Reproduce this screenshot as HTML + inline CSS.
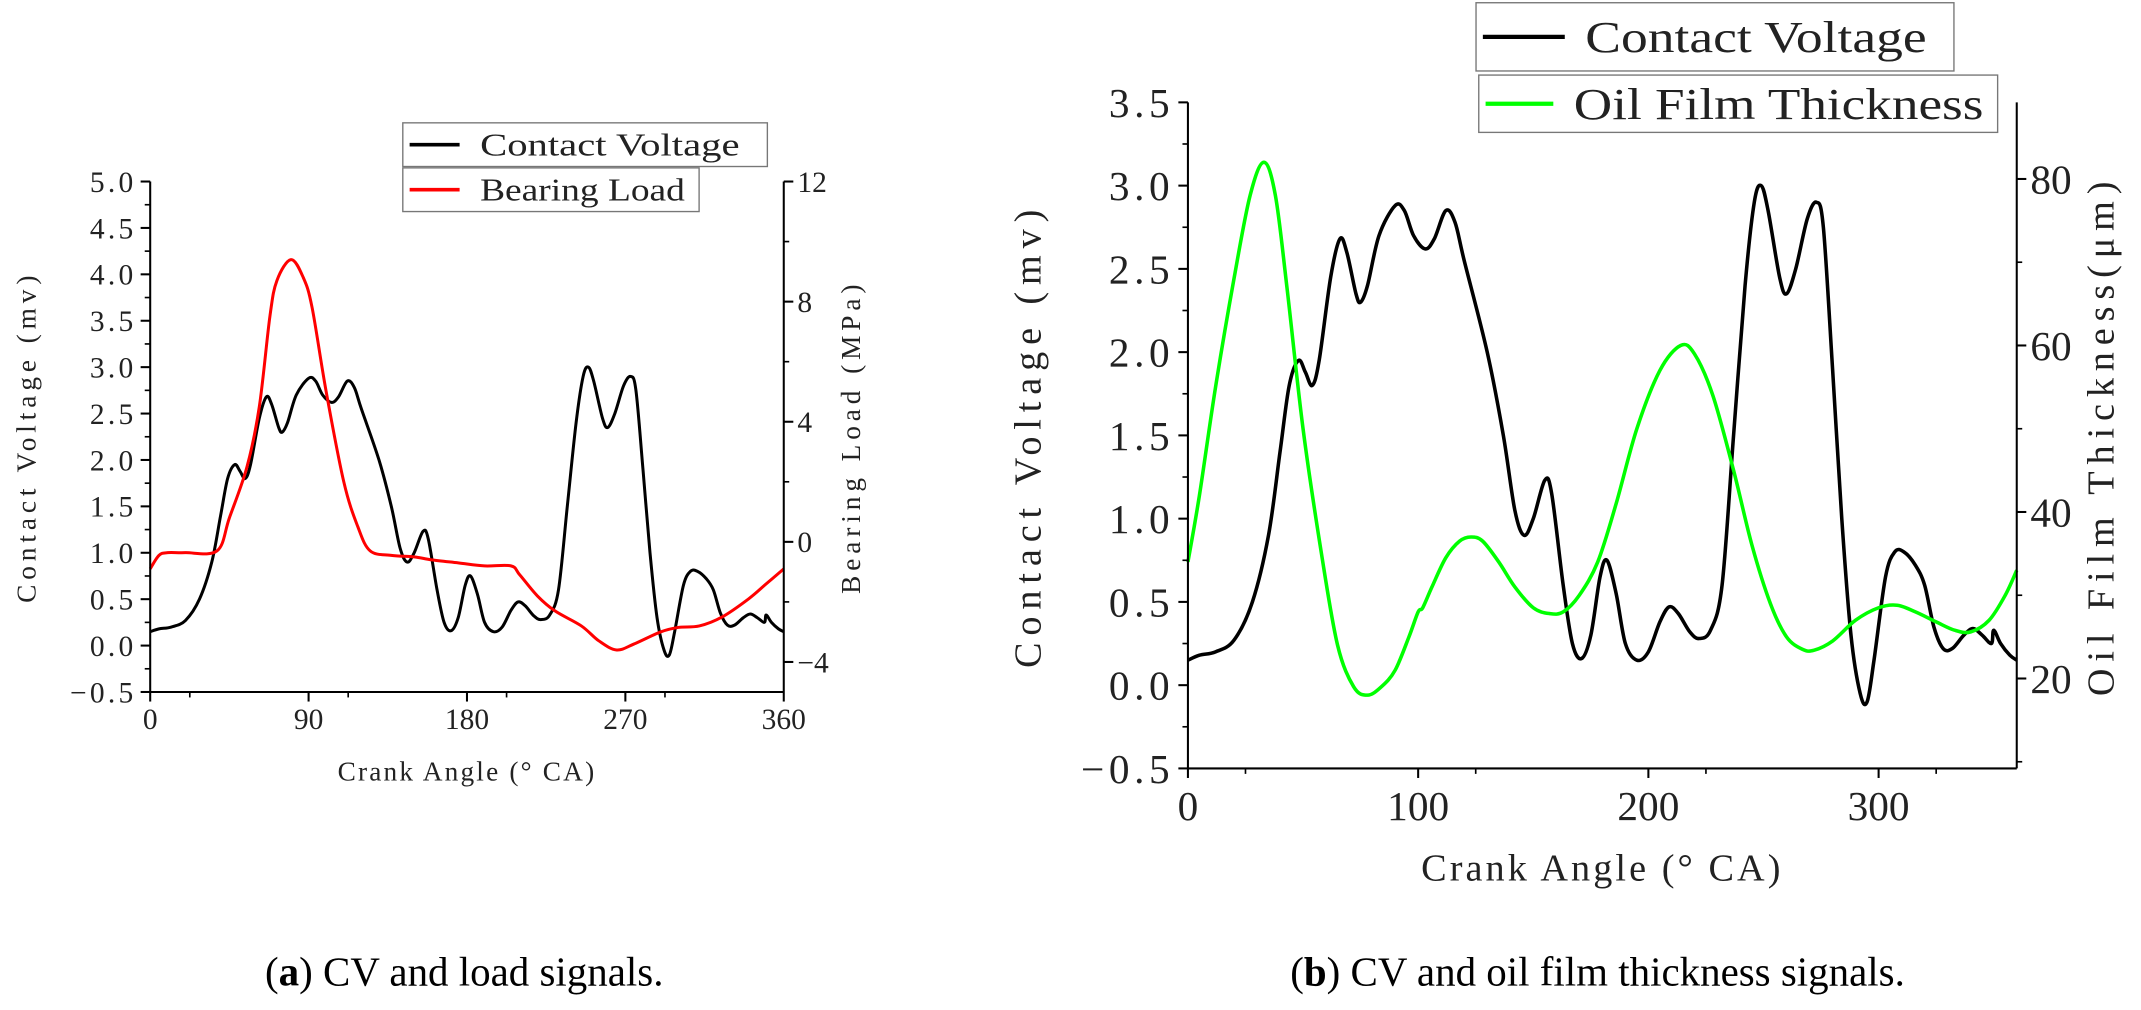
<!DOCTYPE html>
<html><head><meta charset="utf-8"><style>
html,body{margin:0;padding:0;background:#fff;}
svg{display:block;}
.tk{font-family:"Liberation Serif","Noto Serif CJK SC",serif;fill:#222;}
.cap{font-family:"Liberation Serif",serif;fill:#000;}
</style></head><body>
<svg id="fig" width="2141" height="1010" viewBox="0 0 1568 740" preserveAspectRatio="none" xmlns="http://www.w3.org/2000/svg">
<g id="ga"></g>
<g id="gb"></g>
<text class="cap" x="340" y="722" text-anchor="middle" font-size="30">(<tspan font-weight="bold">a</tspan>) CV and load signals.</text>
<text class="cap" x="1170" y="722" text-anchor="middle" font-size="30">(<tspan font-weight="bold">b</tspan>) CV and oil film thickness signals.</text>
</svg>
<script>
const cvAngles=[0,5,12,20,28,35,40,44,48,51,54,57,62,66,69,73,75,78,83,90,94,98,103,107,112,116,120,130,137,142,146,150,155,158,163,167,171,175,179,182,186,190,195,200,205,209,213,218,222,227,232,237,242,246,249,252,257,260,264,269,273,276,280,284,288,292,295,298,303,307,311,316,320,324,328,332,337,341,345,349,350,353,357,360];
const cvValues=[0.15,0.18,0.2,0.27,0.5,0.9,1.4,1.8,1.95,1.88,1.8,1.95,2.45,2.68,2.6,2.35,2.3,2.4,2.7,2.88,2.85,2.7,2.62,2.68,2.85,2.78,2.55,2.0,1.5,1.05,0.9,1.0,1.23,1.15,0.6,0.25,0.16,0.3,0.65,0.75,0.55,0.25,0.15,0.2,0.38,0.47,0.43,0.32,0.28,0.33,0.6,1.5,2.4,2.9,3.0,2.85,2.45,2.35,2.5,2.8,2.9,2.75,1.9,1.0,0.3,-0.05,-0.1,0.15,0.65,0.8,0.8,0.72,0.6,0.35,0.22,0.22,0.3,0.34,0.3,0.25,0.33,0.25,0.18,0.15];
const loadAngles=[0,5,10,20,38,45,55,62,68,72,80,87,92,100,110,118,125,137,150,160,175,190,205,210,220,230,245,255,265,275,290,300,312,325,340,350,360];
const loadValues=[-0.9,-0.45,-0.36,-0.36,-0.3,0.8,2.5,4.5,7.5,8.7,9.4,8.8,7.8,5,2,0.5,-0.3,-0.45,-0.5,-0.6,-0.7,-0.8,-0.8,-1.1,-1.8,-2.3,-2.8,-3.3,-3.6,-3.4,-3.0,-2.85,-2.8,-2.5,-1.9,-1.4,-0.9];
const oilAngles=[0,5,12,20,27,33,38,43,50,58,65,72,78,84,90,96,100,102,106,112,118,123,128,135,142,150,157,163,170,178,186,195,205,214,220,228,237,245,253,260,267,272,280,290,300,308,316,325,333,340,348,355,360];
const oilValues=[34,42,55,68,78,82,78,67,50,35,24,19,18,19,21,25,28,28.5,31,34.5,36.5,37,36.5,34,31,28.5,27.8,28,30,34,41,50,57,60,59,54,45,36,29,25,23.5,23.4,24.5,27,28.5,28.8,28,26.8,25.8,25.6,27,30,33];
const aLeftTicks=["5.0","4.5","4.0","3.5","3.0","2.5","2.0","1.5","1.0","0.5","0.0","−0.5"];
const aRightTicks=[12,8,4,0,-4];
const aXTicks=[0,90,180,270,360];
const bLeftTicks=["3.5","3.0","2.5","2.0","1.5","1.0","0.5","0.0","−0.5"];
const bRightTicks=[80,60,40,20];
const bXTicks=[0,100,200,300];

const NS="http://www.w3.org/2000/svg";
function mk(parent,tag,attrs,name,txt){const e=document.createElementNS(NS,tag);for(const k in attrs)e.setAttribute(k,attrs[k]);


if(txt!==undefined)e.textContent=txt;parent.appendChild(e);return e;}
function lin(d0,d1,r0,r1){return v=>r0+(v-d0)*(r1-r0)/(d1-d0);}
function smooth(pts){let d="M"+pts[0][0].toFixed(2)+","+pts[0][1].toFixed(2);
for(let i=0;i<pts.length-1;i++){const p0=pts[Math.max(i-1,0)],p1=pts[i],p2=pts[i+1],p3=pts[Math.min(i+2,pts.length-1)];
const c1=[p1[0]+(p2[0]-p0[0])/6,p1[1]+(p2[1]-p0[1])/6],c2=[p2[0]-(p3[0]-p1[0])/6,p2[1]-(p3[1]-p1[1])/6];
d+="C"+c1[0].toFixed(2)+","+c1[1].toFixed(2)+" "+c2[0].toFixed(2)+","+c2[1].toFixed(2)+" "+p2[0].toFixed(2)+","+p2[1].toFixed(2);}return d;}

function chart(g,o){
  const x=lin(0,360,o.x0,o.x1), yl=lin(o.l0,o.l1,o.yb,o.yt), yr=lin(o.r0,o.r1,o.yb,o.yt);
  const ls=o.fs*0.12;
  mk(g,'path',{d:smooth(o.s1x.map((a,i)=>[x(a),yl(o.s1y[i])])),fill:'none',stroke:'#000','stroke-width':o.lw},'contact-voltage-line');
  mk(g,'path',{d:smooth(o.s2x.map((a,i)=>[x(a),yr(o.s2y[i])])),fill:'none',stroke:o.c2,'stroke-width':o.lw},o.s2name+'-line');
  mk(g,'line',{x1:o.x0,y1:o.yt,x2:o.x0,y2:o.yb,stroke:'#000','stroke-width':1.5},'left-y-axis');
  mk(g,'line',{x1:o.x1,y1:o.yt,x2:o.x1,y2:o.yb,stroke:'#000','stroke-width':1.5},'right-y-axis');
  mk(g,'line',{x1:o.x0,y1:o.yb,x2:o.x1,y2:o.yb,stroke:'#000','stroke-width':1.5},'x-axis');
  o.lt.forEach(t=>{const v=parseFloat(t.replace('−','-'));const yy=yl(v);
    mk(g,'line',{x1:o.x0-7,y1:yy,x2:o.x0,y2:yy,stroke:'#000','stroke-width':1.5},'left-tick');
    if(v+0.25<=o.l1){const ym=yl(v+0.25);mk(g,'line',{x1:o.x0-4,y1:ym,x2:o.x0,y2:ym,stroke:'#000','stroke-width':1.2},'left-minor-tick');}
    mk(g,'text',{class:'tk',x:o.x0-10,y:yy+o.fs*0.38,'text-anchor':'end','font-size':o.fs*1.08,'letter-spacing':ls},'left-tick-label',t);});
  o.rt.forEach(v=>{const yy=yr(v);
    mk(g,'line',{x1:o.x1,y1:yy,x2:o.x1+7,y2:yy,stroke:'#000','stroke-width':1.5},'right-tick');
    const ym=yr(v-o.rstep/2);if(ym<=o.yb)mk(g,'line',{x1:o.x1,y1:ym,x2:o.x1+4,y2:ym,stroke:'#000','stroke-width':1.2},'right-minor-tick');
    mk(g,'text',{class:'tk',x:o.x1+10,y:yy+o.fs*0.38,'font-size':o.fs*1.08},'right-tick-label',String(v).replace('-','−'));});
  o.xt.forEach(v=>{const xx=x(v);
    mk(g,'line',{x1:xx,y1:o.yb,x2:xx,y2:o.yb+7,stroke:'#000','stroke-width':1.5},'x-tick');
    const xm=x(v+o.xstep/2);if(v+o.xstep/2<=360)mk(g,'line',{x1:xm,y1:o.yb,x2:xm,y2:o.yb+4,stroke:'#000','stroke-width':1.2},'x-minor-tick');
    mk(g,'text',{class:'tk',x:xx,y:o.yb+o.fs*1.35,'text-anchor':'middle','font-size':o.fs*1.08},'x-tick-label',String(v));});
  mk(g,'text',{class:'tk',x:(o.x0+o.x1)/2,y:o.xty,'text-anchor':'middle','font-size':o.fs,'letter-spacing':o.fs*0.08},'x-axis-title','Crank Angle (° CA)');
  mk(g,'text',{class:'tk',transform:`translate(${o.ylx},${(o.yt+o.yb)/2}) rotate(-90)`,'text-anchor':'middle','font-size':o.fs,'letter-spacing':o.fs*0.18},'left-y-axis-title','Contact Voltage (mv)');
  mk(g,'text',{class:'tk',transform:`translate(${o.yrx},${(o.yt+o.yb)/2}) rotate(-90)`,'text-anchor':'middle','font-size':o.fs,'letter-spacing':o.fs*0.18},'right-y-axis-title',o.rtitle);
  o.leg.forEach((L,i)=>{
    mk(g,'rect',{x:L[0],y:L[1],width:L[2],height:L[3],fill:'#fff',stroke:'#777','stroke-width':1},'legend-box');
    mk(g,'line',{x1:L[0]+5,y1:L[1]+L[3]/2,x2:L[0]+L[3]*1.3,y2:L[1]+L[3]/2,stroke:i?o.c2:'#000','stroke-width':o.lw+0.5},'legend-swatch');
    mk(g,'text',{class:'tk',x:L[0]+L[3]*1.3+15,y:L[1]+L[3]/2+o.fs*0.4,'font-size':o.fs*1.15,textLength:L[5],lengthAdjust:'spacingAndGlyphs'},'legend-label',L[4]);});
}
chart(document.getElementById('ga'),{x0:110,x1:574,yt:133,yb:507,l0:-0.5,l1:5.0,r0:-5,r1:12,rstep:4,xstep:45,fs:20,lw:2.2,
 s1x:cvAngles,s1y:cvValues,s2x:loadAngles,s2y:loadValues,c2:'#ff0000',s2name:'bearing-load',
 lt:aLeftTicks,rt:aRightTicks,xt:aXTicks,xty:572,ylx:26,yrx:630,rtitle:'Bearing Load (MPa)',
 leg:[[295,90,267,32,'Contact Voltage',190],[295,123,217,32,'Bearing Load',150]]});
chart(document.getElementById('gb'),{x0:870,x1:1477,yt:75,yb:563,l0:-0.5,l1:3.5,r0:9.2,r1:89.2,rstep:20,xstep:50,fs:28,lw:2.6,
 s1x:cvAngles,s1y:cvValues,s2x:oilAngles,s2y:oilValues,c2:'#00ff00',s2name:'oil-film-thickness',
 lt:bLeftTicks,rt:bRightTicks,xt:bXTicks,xty:645,ylx:762,yrx:1548,rtitle:'Oil Film Thickness(μm)',
 leg:[[1081,2,350,50,'Contact Voltage',250],[1083,55,380,42,'Oil Film Thickness',300]]});
</script>
</body></html>
